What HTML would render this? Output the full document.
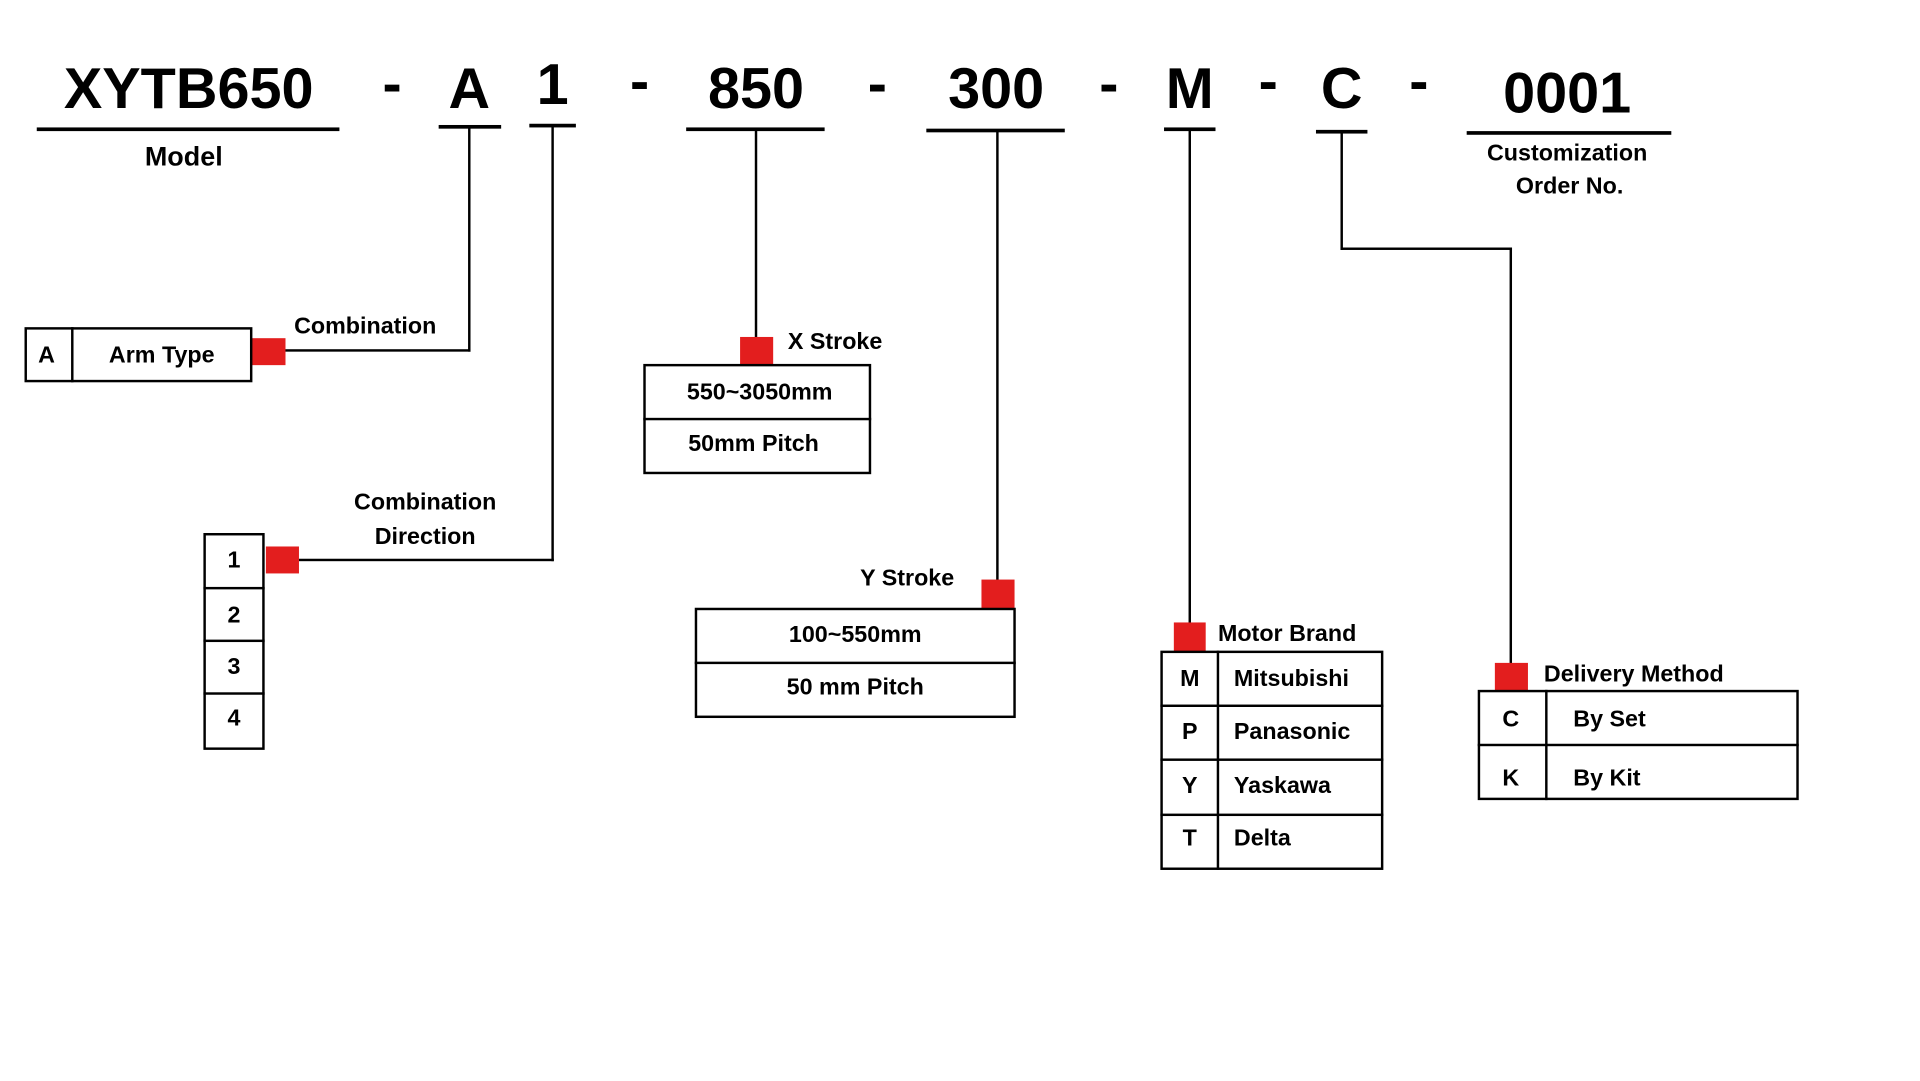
<!DOCTYPE html>
<html><head><meta charset="utf-8"><style>
html,body{margin:0;padding:0;background:#fff;}
body{width:1920px;height:1080px;overflow:hidden;position:relative;}
#w{position:absolute;left:0;top:0;width:1570px;height:882px;transform:scale(1.2253);transform-origin:0 0;font-family:"Liberation Sans",sans-serif;font-weight:bold;color:#000;}
.t{position:absolute;white-space:nowrap;line-height:1;}
.c{transform:translateX(-50%);}
.big{font-size:47px;}
.h{position:absolute;background:#000;}
.r{position:absolute;background:#e31e1e;}
.b{position:absolute;border:2px solid #000;box-sizing:border-box;}
.s{font-size:19px;}
</style></head><body><div id="w">
<div class="t big c" style="left:154px;top:48px">XYTB650</div>
<div class="t big c" style="left:320px;top:44px">-</div>
<div class="t big c" style="left:383px;top:48px">A</div>
<div class="t big c" style="left:451px;top:45px">1</div>
<div class="t big c" style="left:522px;top:42px">-</div>
<div class="t big c" style="left:617px;top:48px">850</div>
<div class="t big c" style="left:716px;top:44px">-</div>
<div class="t big c" style="left:813px;top:48px">300</div>
<div class="t big c" style="left:905px;top:44px">-</div>
<div class="t big c" style="left:971px;top:48px">M</div>
<div class="t big c" style="left:1035px;top:42px">-</div>
<div class="t big c" style="left:1095px;top:48px">C</div>
<div class="t big c" style="left:1158px;top:42px">-</div>
<div class="t big c" style="left:1279px;top:52px">0001</div>
<div class="h" style="left:30px;top:104px;width:247px;height:3px"></div>
<div class="h" style="left:358px;top:102px;width:51px;height:3px"></div>
<div class="h" style="left:432px;top:101px;width:38px;height:3px"></div>
<div class="h" style="left:560px;top:104px;width:113px;height:3px"></div>
<div class="h" style="left:756px;top:105px;width:113px;height:3px"></div>
<div class="h" style="left:950px;top:104px;width:42px;height:3px"></div>
<div class="h" style="left:1074px;top:106px;width:42px;height:3px"></div>
<div class="h" style="left:1197px;top:107px;width:167px;height:3px"></div>
<div class="t c" style="left:150px;top:117px;font-size:22px">Model</div>
<div class="t c s" style="left:1279px;top:116px">Customization</div>
<div class="t c s" style="left:1281px;top:143px">Order No.</div>
<div class="h" style="left:382px;top:104px;width:2px;height:183px"></div>
<div class="h" style="left:233px;top:285px;width:151px;height:2px"></div>
<div class="h" style="left:450px;top:103px;width:2px;height:355px"></div>
<div class="h" style="left:244px;top:456px;width:208px;height:2px"></div>
<div class="h" style="left:616px;top:106px;width:2px;height:170px"></div>
<div class="h" style="left:813px;top:106px;width:2px;height:368px"></div>
<div class="h" style="left:970px;top:105px;width:2px;height:404px"></div>
<div class="h" style="left:1094px;top:107px;width:2px;height:97px"></div>
<div class="h" style="left:1094px;top:202px;width:140px;height:2px"></div>
<div class="h" style="left:1232px;top:202px;width:2px;height:340px"></div>
<div class="r" style="left:205px;top:276px;width:28px;height:22px"></div>
<div class="r" style="left:217px;top:446px;width:27px;height:22px"></div>
<div class="r" style="left:604px;top:275px;width:27px;height:23px"></div>
<div class="r" style="left:801px;top:473px;width:27px;height:24px"></div>
<div class="r" style="left:958px;top:508px;width:26px;height:24px"></div>
<div class="r" style="left:1220px;top:541px;width:27px;height:23px"></div>
<div class="t s" style="left:240px;top:257px">Combination</div>
<div class="b" style="left:20px;top:267px;width:186px;height:45px"></div>
<div class="h" style="left:58px;top:267px;width:2px;height:45px"></div>
<div class="t s c" style="left:38px;top:281px">A</div>
<div class="t s c" style="left:132px;top:281px">Arm Type</div>
<div class="t s c" style="left:347px;top:401px">Combination</div>
<div class="t s c" style="left:347px;top:429px">Direction</div>
<div class="b" style="left:166px;top:435px;width:50px;height:177px"></div>
<div class="h" style="left:166px;top:479px;width:50px;height:2px"></div>
<div class="h" style="left:166px;top:522px;width:50px;height:2px"></div>
<div class="h" style="left:166px;top:565px;width:50px;height:2px"></div>
<div class="t s c" style="left:191px;top:448px">1</div>
<div class="t s c" style="left:191px;top:493px">2</div>
<div class="t s c" style="left:191px;top:535px">3</div>
<div class="t s c" style="left:191px;top:577px">4</div>
<div class="t s" style="left:643px;top:270px">X Stroke</div>
<div class="b" style="left:525px;top:297px;width:186px;height:90px"></div>
<div class="h" style="left:525px;top:341px;width:186px;height:2px"></div>
<div class="t s c" style="left:620px;top:311px">550~3050mm</div>
<div class="t s c" style="left:615px;top:353px">50mm Pitch</div>
<div class="t s" style="left:702px;top:463px">Y Stroke</div>
<div class="b" style="left:567px;top:496px;width:262px;height:90px"></div>
<div class="h" style="left:567px;top:540px;width:262px;height:2px"></div>
<div class="t s c" style="left:698px;top:509px">100~550mm</div>
<div class="t s c" style="left:698px;top:552px">50 mm Pitch</div>
<div class="t s" style="left:994px;top:508px">Motor Brand</div>
<div class="b" style="left:947px;top:531px;width:182px;height:179px"></div>
<div class="h" style="left:993px;top:531px;width:2px;height:179px"></div>
<div class="h" style="left:947px;top:575px;width:182px;height:2px"></div>
<div class="h" style="left:947px;top:619px;width:182px;height:2px"></div>
<div class="h" style="left:947px;top:664px;width:182px;height:2px"></div>
<div class="t s c" style="left:971px;top:545px">M</div>
<div class="t s c" style="left:971px;top:588px">P</div>
<div class="t s c" style="left:971px;top:632px">Y</div>
<div class="t s c" style="left:971px;top:675px">T</div>
<div class="t s" style="left:1007px;top:545px">Mitsubishi</div>
<div class="t s" style="left:1007px;top:588px">Panasonic</div>
<div class="t s" style="left:1007px;top:632px">Yaskawa</div>
<div class="t s" style="left:1007px;top:675px">Delta</div>
<div class="t s" style="left:1260px;top:541px">Delivery Method</div>
<div class="b" style="left:1206px;top:563px;width:262px;height:90px"></div>
<div class="h" style="left:1261px;top:563px;width:2px;height:90px"></div>
<div class="h" style="left:1206px;top:607px;width:262px;height:2px"></div>
<div class="t s c" style="left:1233px;top:578px">C</div>
<div class="t s c" style="left:1233px;top:626px">K</div>
<div class="t s" style="left:1284px;top:578px">By Set</div>
<div class="t s" style="left:1284px;top:626px">By Kit</div>
</div></body></html>
